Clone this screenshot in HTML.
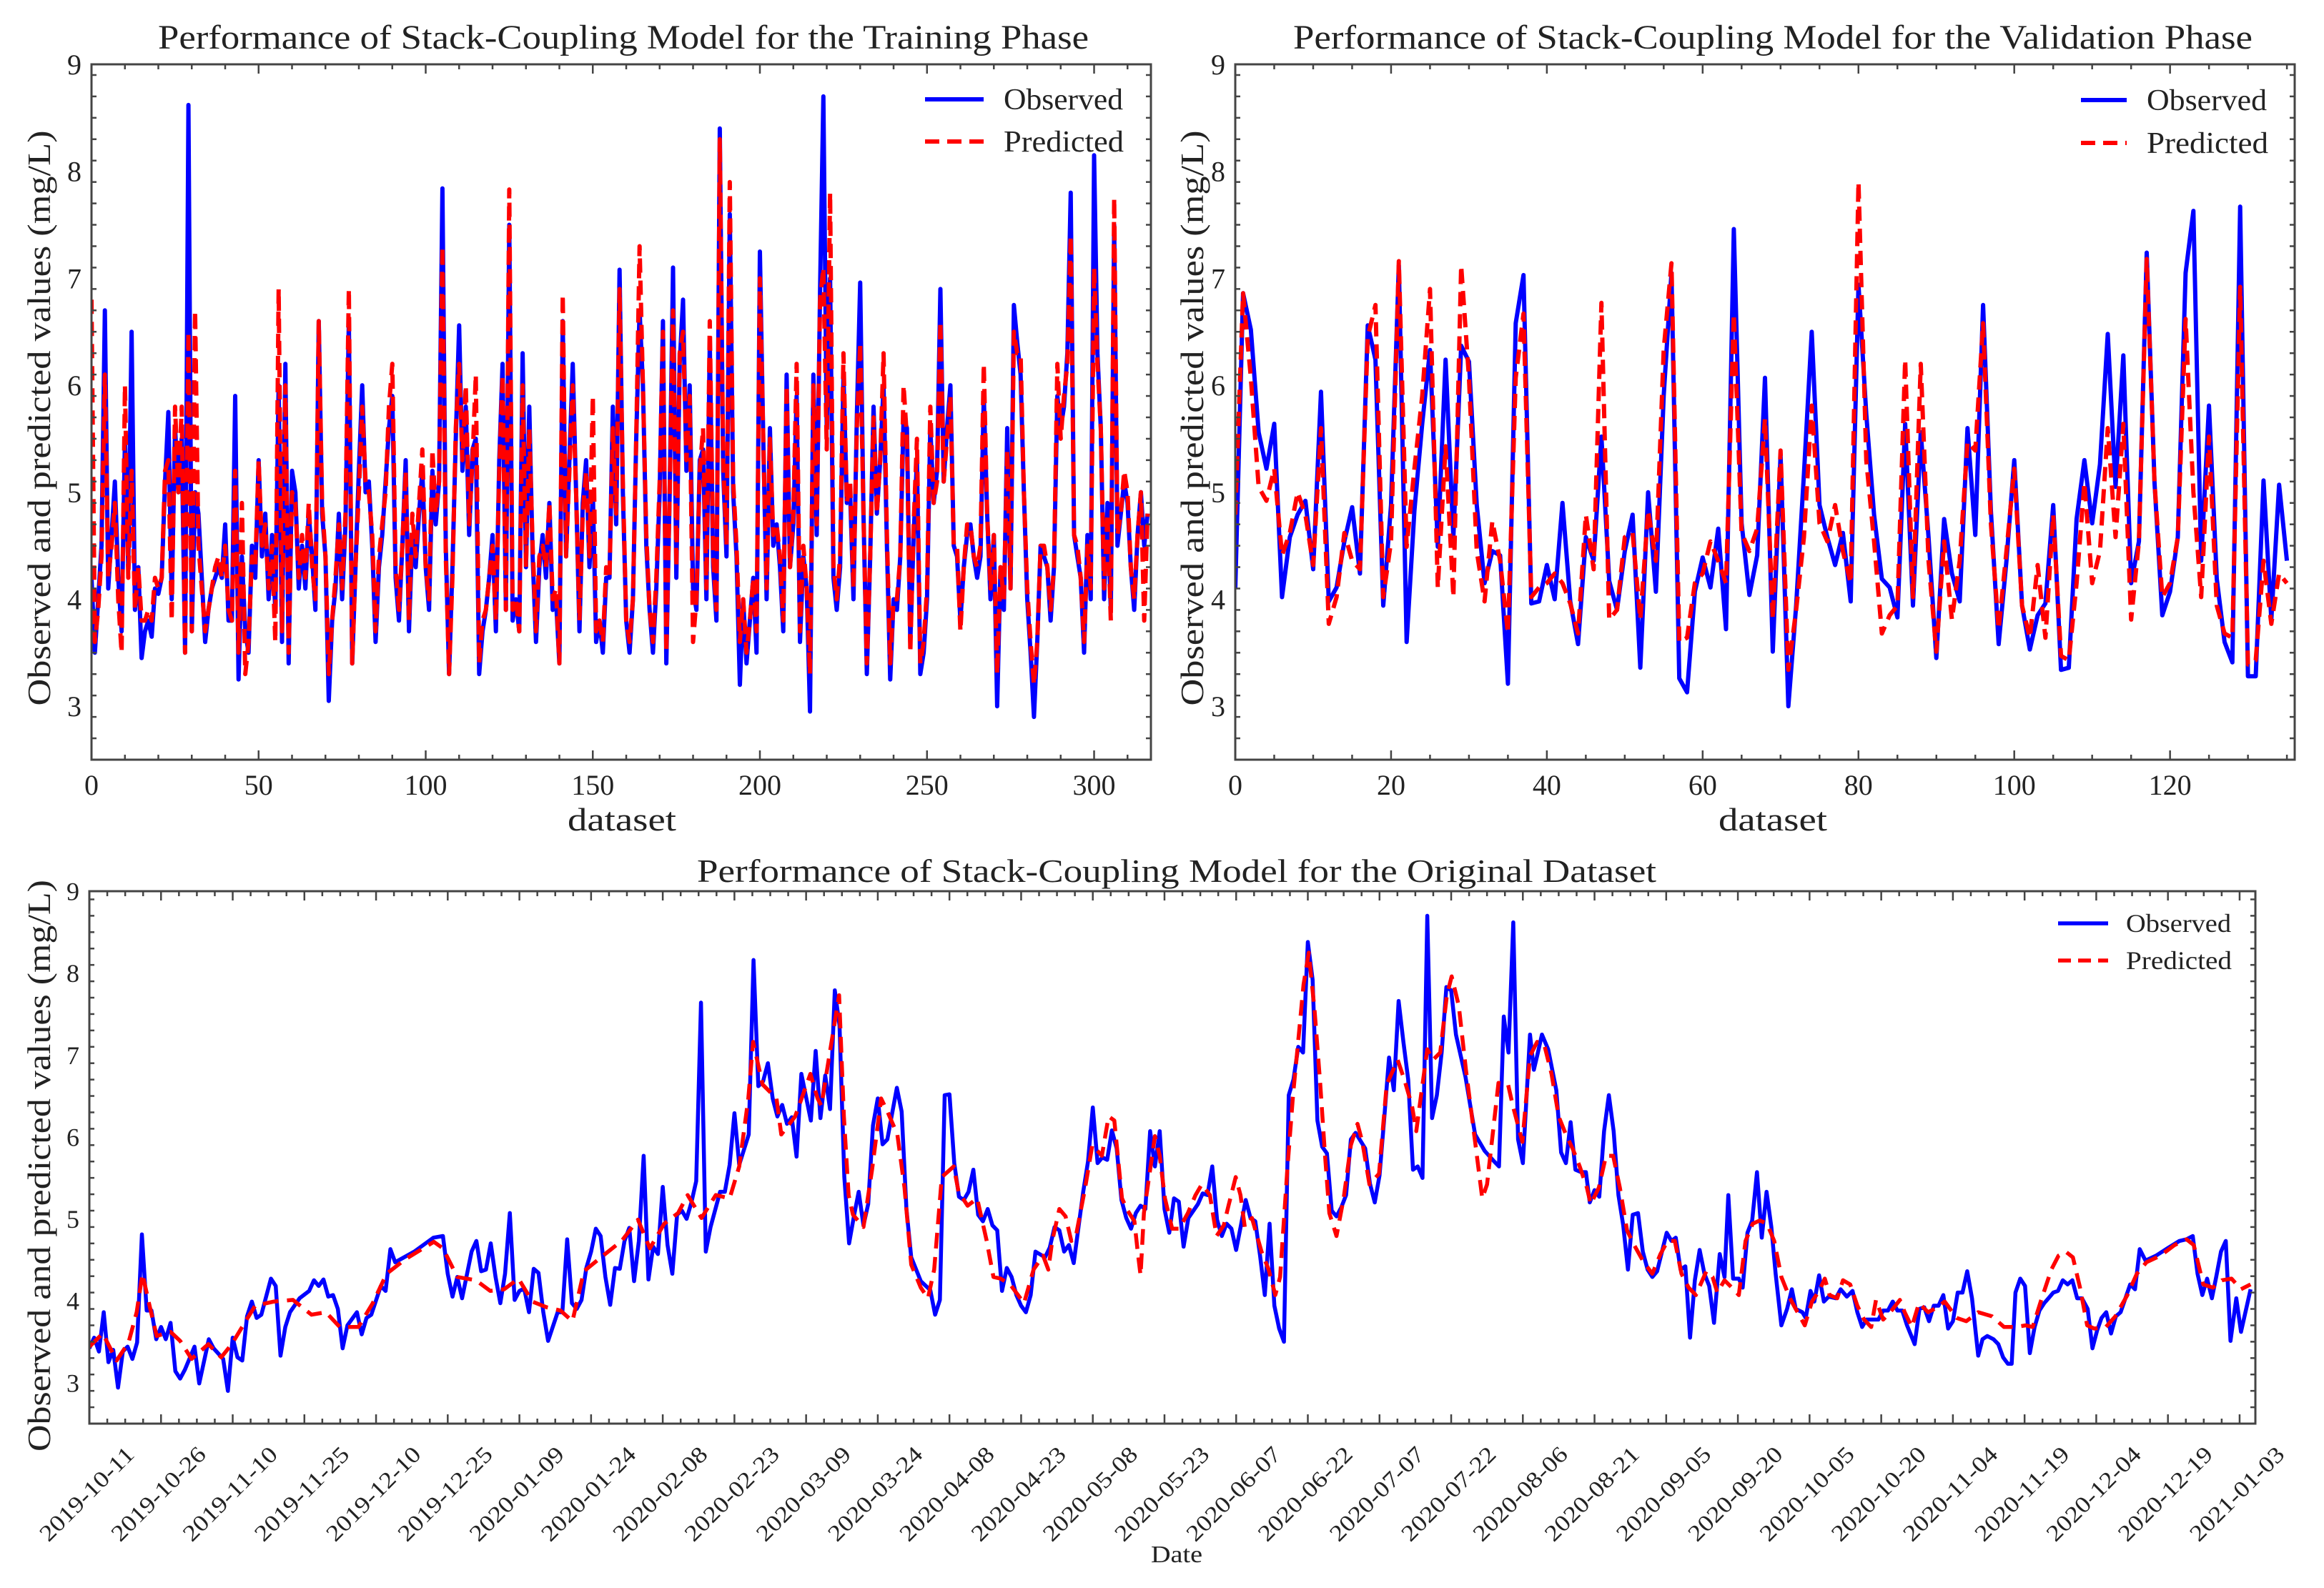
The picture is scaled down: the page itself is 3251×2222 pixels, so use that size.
<!DOCTYPE html>
<html><head><meta charset="utf-8">
<style>
html,body{margin:0;padding:0;background:#fff;}
svg{display:block;}
text{font-family:"Liberation Serif","DejaVu Serif",serif;fill:#222;}
</style></head>
<body>
<svg id="fig" width="3251" height="2222" viewBox="0 0 3251 2222" xmlns="http://www.w3.org/2000/svg">
<rect width="3251" height="2222" fill="#fff"/>
<defs>
<clipPath id="clipTL"><rect x="128" y="90" width="1482" height="973"/></clipPath>
<clipPath id="clipTR"><rect x="1728" y="90" width="1482" height="973"/></clipPath>
<clipPath id="clipB"><rect x="125" y="1247" width="3030" height="745"/></clipPath>
</defs>
<g id="gTL"></g>
<g id="gTR"></g>
<g id="gB"></g>
</svg>
<script>
// ---------- Training phase data ----------
const trainObserved = [4.2,3.5,4.0,4.5,6.7,4.1,4.6,5.1,4.2,3.7,
5.5,4.3,6.5,3.9,4.3,3.45,3.7,3.8,3.65,4.1,
4.05,4.2,5.1,5.75,4.0,5.6,5.0,5.5,3.5,8.62,
3.7,5.0,4.8,4.2,3.6,3.9,4.1,4.2,4.3,4.2,
4.7,3.8,3.8,5.9,3.25,4.4,3.7,3.5,4.5,4.2,
5.3,4.4,4.8,4.0,4.6,3.9,6.0,3.6,6.2,3.4,
5.2,5.0,4.1,4.5,4.1,4.8,4.4,3.9,6.6,4.8,
4.4,3.05,3.8,4.1,4.8,4.0,4.7,6.6,3.4,4.3,
5.2,6.0,5.0,5.1,4.5,3.6,4.3,4.6,5.1,5.6,
5.9,4.2,3.8,4.5,5.3,3.7,4.6,4.3,4.8,5.2,
4.3,3.9,5.2,4.7,5.1,7.84,4.5,3.3,4.3,5.5,
6.56,5.2,5.8,4.6,5.4,5.5,3.3,3.7,3.9,4.2,
4.6,3.7,5.3,6.2,3.9,7.5,3.8,4.0,3.7,6.3,
4.3,5.8,4.4,3.6,4.3,4.6,4.2,4.9,3.9,4.0,
3.4,6.6,4.4,5.3,6.2,5.0,3.7,4.9,5.3,4.3,
5.0,3.6,3.8,3.5,4.2,4.2,5.8,4.7,7.08,5.0,
3.8,3.5,4.0,5.5,6.7,6.0,4.5,3.9,3.5,4.1,
5.0,6.6,3.4,5.0,7.1,4.2,6.2,6.8,5.2,6.0,
4.1,3.9,5.3,5.4,4.0,6.4,4.3,3.8,8.4,5.2,
4.4,7.6,5.0,4.4,3.2,4.0,3.4,3.8,4.2,3.5,
7.25,5.5,4.0,5.6,4.5,4.7,4.3,3.7,6.1,4.3,
4.7,5.9,3.6,4.4,4.1,2.95,6.1,4.6,6.9,8.7,
5.6,7.0,4.2,3.9,4.3,6.1,4.9,5.0,4.0,5.7,
6.96,4.8,3.3,4.4,5.8,4.8,5.3,6.0,4.5,3.25,
4.0,3.9,4.4,5.7,5.6,3.6,4.6,5.3,3.3,3.5,
4.0,5.6,4.9,5.2,6.9,5.1,5.6,6.0,4.5,4.4,
3.8,4.3,4.6,4.7,4.4,4.2,4.4,5.9,4.8,4.0,
4.6,3.0,4.3,3.9,5.6,4.1,6.75,6.4,6.1,5.0,
4.0,3.5,2.9,3.6,4.5,4.4,4.3,3.8,4.3,5.9,
5.6,5.8,6.3,7.8,4.6,4.4,4.2,3.5,4.6,4.0,
8.15,6.3,5.6,4.0,4.9,3.9,7.5,4.5,4.8,5.1,
4.9,4.3,3.9,4.6,5.0,4.5,4.8];
const trainPredicted = [6.8,3.6,3.9,4.4,6.1,4.2,4.5,4.9,4.0,3.5,
6.0,4.2,5.2,3.9,4.3,3.8,3.8,3.9,3.8,4.2,
4.1,4.2,5.2,5.3,3.8,5.8,5.0,5.8,3.5,6.5,
3.7,6.7,4.5,4.1,3.7,3.9,4.1,4.3,4.4,4.2,
4.5,3.9,3.8,5.2,3.5,4.9,3.3,3.6,4.4,4.3,
5.3,4.5,4.7,4.1,4.5,3.6,6.9,3.7,6.0,3.5,
5.0,4.9,4.2,4.6,4.2,4.9,4.3,4.0,6.6,4.9,
4.4,3.3,3.8,4.2,4.7,4.1,4.8,6.9,3.4,4.3,
5.0,5.8,5.1,5.0,4.6,3.7,4.4,4.7,5.0,5.8,
6.2,4.3,3.9,4.5,5.2,3.8,4.8,4.4,4.9,5.4,
4.3,4.0,5.4,4.8,5.1,7.3,4.4,3.3,4.2,5.6,
6.2,5.3,6.0,4.7,5.3,6.1,3.4,3.8,3.9,4.2,
4.5,3.8,5.2,6.1,3.9,7.83,3.9,4.0,3.7,6.0,
4.3,5.6,4.5,3.7,4.4,4.5,4.3,4.9,4.0,4.1,
3.4,6.85,4.4,5.2,6.0,5.0,3.8,4.8,5.2,4.4,
5.9,3.7,3.8,3.6,4.3,4.2,5.6,4.8,6.9,5.1,
3.8,3.6,4.0,5.5,7.3,6.0,4.6,3.9,3.6,4.2,
5.1,6.5,3.5,5.0,6.7,4.3,6.3,6.5,5.3,5.9,
3.6,4.0,5.2,5.6,4.1,6.6,4.4,3.9,8.3,5.3,
4.5,7.9,5.1,4.5,3.6,4.0,3.5,3.8,4.2,3.7,
7.0,5.5,4.1,5.5,4.6,4.7,4.4,3.8,6.0,4.3,
4.8,6.2,3.7,4.5,4.1,3.3,6.0,4.7,6.8,7.1,
5.4,7.8,4.3,4.0,4.4,6.3,4.9,5.1,4.1,5.6,
6.4,4.8,3.4,4.4,5.7,4.8,5.3,6.3,4.6,3.4,
4.0,4.0,4.4,6.0,5.5,3.5,4.7,5.5,3.4,3.6,
4.1,5.8,4.9,5.1,6.6,5.1,5.5,5.9,4.5,4.5,
3.7,4.3,4.7,4.7,4.4,4.3,4.5,6.2,4.8,4.1,
4.6,3.3,4.3,4.0,5.4,4.1,6.5,6.3,6.3,5.0,
4.1,3.6,3.2,3.6,4.5,4.5,4.3,3.9,4.3,6.2,
5.5,5.9,6.2,7.4,4.6,4.5,4.2,3.6,4.5,4.1,
7.1,6.2,5.6,4.1,4.8,3.8,7.75,4.6,4.8,5.2,
5.0,4.3,4.0,4.6,5.0,3.8,4.8];
const trainXTicks = [0,50,100,150,200,250,300];
const trainYTicks = [3,4,5,6,7,8,9];

// ---------- Validation phase data ----------
const valObserved = [4.1,6.86,6.52,5.56,5.22,5.64,4.02,4.58,4.79,4.92,
4.28,5.94,3.98,4.11,4.54,4.86,4.24,6.56,6.24,3.94,
4.88,7.12,3.6,4.83,5.64,6.33,4.49,6.24,4.58,6.37,
6.22,4.88,4.15,4.45,4.41,3.21,6.58,7.03,3.96,3.98,
4.32,4.0,4.9,3.98,3.58,4.58,4.36,5.52,4.17,3.9,
4.45,4.79,3.36,5.0,4.07,5.9,7.05,3.26,3.13,4.07,
4.39,4.11,4.66,3.72,7.46,4.71,4.04,4.41,6.07,3.51,
5.35,3.0,3.94,5.17,6.5,4.88,4.58,4.32,4.62,3.98,
6.94,5.73,4.79,4.19,4.11,3.83,5.64,3.94,5.56,4.58,
3.45,4.75,4.24,3.98,5.6,4.6,6.75,4.83,3.58,4.36,
5.3,3.94,3.53,3.85,3.96,4.88,3.34,3.36,4.75,5.3,
4.71,5.26,6.48,5.05,6.28,4.15,4.54,7.24,5.09,3.85,
4.07,4.58,7.05,7.63,4.36,5.81,4.19,3.6,3.41,7.67,
3.28,3.28,5.11,3.81,5.07,4.36];
const valPredicted = [4.79,6.86,6.07,5.05,4.92,5.22,4.41,4.62,5.0,4.79,
4.32,5.6,3.77,4.02,4.62,4.36,4.28,6.45,6.75,4.02,
4.54,7.16,4.49,5.22,5.9,6.9,4.11,5.43,4.02,7.12,
6.07,4.45,3.98,4.73,4.36,3.68,6.07,6.67,4.02,4.11,
4.15,4.24,4.15,3.96,3.68,4.79,4.28,6.77,3.81,3.9,
4.58,4.62,3.81,4.83,4.36,6.33,7.14,3.6,3.64,4.15,
4.24,4.54,4.36,4.15,6.67,4.62,4.45,4.66,5.69,3.81,
5.39,3.34,3.9,4.58,5.81,4.71,4.54,4.88,4.45,4.15,
7.9,5.3,4.54,3.68,3.85,3.94,6.24,4.02,6.2,4.36,
3.51,4.54,3.81,4.36,5.47,5.39,6.58,4.71,3.72,4.45,
5.22,3.94,3.64,4.32,3.64,4.79,3.47,3.43,4.15,5.09,
4.15,4.45,5.6,4.58,5.64,3.81,4.54,7.18,5.09,4.02,
4.15,4.58,6.62,5.0,4.02,5.52,3.94,3.68,3.64,6.92,
3.39,3.43,4.36,3.77,4.24,4.15];
const valXTicks = [0,20,40,60,80,100,120];
const valYTicks = [3,4,5,6,7,8,9];

// ---------- Original dataset data (day offset from 2019-10-11) ----------
const origObsDays = [0,1,2,3,4,5,6,7,8,9,10,11,12,13,14,15,16,17,18,19,20,22,23,25,26,28,29,30,31,32,33,34,35,36,38,39,40,41,42,44,46,47,48,49,50,51,52,53,54,56,57,58,59,61,62,63,64,68,72,74,75,76,77,78,80,81,82,83,84,85,86,87,88,89,90,91,92,93,94,95,96,98,99,100,101,102,103,104,105,106,107,108,109,110,111,112,113,114,115,116,117,118,119,120,121,122,123,124,125,126,127,128,129,130,132,133,134,135,136,138,139,140,141,142,143,144,145,146,147,148,149,
151,152,153,154,155,156,157,158,159,160,161,162,163,164,165,166,167,169,170,171,172,174,176,177,178,179,180,181,182,183,184,185,186,187,188,189,190,191,192,193,194,195,196,197,198,200,201,202,203,204,205,206,207,208,209,210,211,212,213,214,215,216,217,218,219,220,221,222,223,224,225,226,227,228,229,230,232,233,234,235,236,237,238,239,240,241,242,243,244,245,246,247,248,249,250,251,252,253,254,255,256,257,258,259,260,261,262,263,264,265,267,268,269,270,271,272,273,274,275,276,277,278,279,280,281,282,283,284,285,286,288,290,292,294,295,296,297,298,299,300,
301.5,302.3,303,304,305.3,307,308,309,310,311,312.2,313.2,314,315,316,317,318,319,320,321,322,323,324.1,325.1,326.1,327.1,328.1,330.1,331.1,332,333,334,335,336,337,338,339,340,341.2,342.2,343,344,345.2,346,347,348,349,350,351,352,352.9,354.1,355.3,356.3,357.1,358.5,359.2,360.2,361,362,363,364,365.5,366.5,367.8,369,370,371,371.9,373.4,374.4,375.4,376.4,377.4,378.4,379.4,380.4,382,383,384,385,386,387,388,389,390,391,392,393,394,395.3,396.2,397.2,398.5,399.5,400.5,401.5,402.3,403.1,404.1,405.1,406.1,407.1,408.1,409.1,410,411,412,413,414,415,416,417,418.2,419.2,420.2,421.1,422.1,423.1,424.1,425.1,426.1,427.1,428.1,429.1,430.3,432.5,434.9,437.4,438.9,440.2,441.2,442.2,443.2,444.2,445.1,446.1,447.1,448.1,449.3,450.3,452.3];
const origObsValues = [3.42,3.55,3.38,3.86,3.25,3.4,2.94,3.38,3.44,3.29,3.49,4.81,3.88,3.88,3.53,3.68,3.53,3.73,3.14,3.05,3.16,3.44,2.99,3.53,3.42,3.29,2.9,3.55,3.31,3.27,3.81,3.99,3.79,3.83,4.27,4.18,3.33,3.68,3.86,4.03,4.12,4.25,4.18,4.26,4.05,4.07,3.9,3.42,3.7,3.86,3.59,3.79,3.83,4.18,4.12,4.63,4.47,4.6,4.77,4.79,4.33,4.05,4.29,4.03,4.6,4.73,4.36,4.38,4.7,4.29,3.97,4.33,5.07,4.01,4.12,4.15,3.86,4.39,4.34,3.86,3.51,3.86,3.86,4.75,3.97,3.9,4.01,4.4,4.6,4.88,4.79,4.29,3.95,4.4,4.39,4.73,4.89,4.24,4.73,5.77,4.26,4.66,4.57,5.39,4.68,4.33,5.05,5.1,5.0,5.2,5.46,7.64,4.6,4.9,5.33,5.33,5.66,6.29,5.66,6.03,8.16,6.62,6.68,6.9,6.47,6.25,6.39,6.16,6.24,5.76,6.77,
6.2,7.05,6.23,6.75,6.34,7.79,7.36,5.51,4.7,5.03,5.33,4.92,5.18,6.14,6.47,5.91,5.97,6.6,6.31,5.12,4.53,4.24,4.13,3.83,4.01,6.51,6.52,5.68,5.27,5.23,5.33,5.6,5.05,4.97,5.12,4.92,4.86,4.12,4.4,4.29,4.07,3.94,3.86,4.07,4.6,4.53,4.65,4.9,4.86,4.6,4.68,4.46,4.9,5.33,5.7,6.36,5.68,5.75,5.72,6.08,5.86,5.23,5.01,4.88,5.07,5.16,5.12,6.07,5.64,6.07,5.12,4.83,5.25,5.21,4.66,5.01,5.18,5.31,5.29,5.64,4.99,4.79,4.94,4.88,4.62,4.92,5.23,5.01,4.97,4.55,4.07,4.94,3.94,3.66,3.5,6.51,6.7,7.1,7.03,8.38,7.92,6.2,5.88,5.8,5.1,5.03,5.14,5.29,5.97,6.05,5.86,5.43,5.2,5.53,6.23,6.97,6.57,7.66,7.16,6.7,5.6,5.64,5.5,8.7,6.23,6.51,7.03,7.83,7.79,7.25,6.73,6.03,5.83,5.7,5.64,7.47,7.03,8.62,5.97,5.68,
7.25,6.82,6.99,7.25,7.07,6.57,5.81,5.68,6.18,5.6,5.57,5.57,5.2,5.35,5.27,6.07,6.51,6.07,5.29,4.92,4.38,5.05,5.07,4.6,4.38,4.29,4.36,4.83,4.73,4.77,4.38,4.42,3.55,4.25,4.62,4.33,4.18,3.73,4.57,4.29,5.29,4.27,4.27,4.16,4.83,4.98,5.57,4.77,5.33,4.9,4.33,3.7,3.9,4.14,3.9,3.86,3.79,4.12,3.99,4.31,3.99,4.05,4.03,4.14,4.05,4.12,3.86,3.68,3.77,3.77,3.77,3.88,3.88,3.99,3.88,3.88,3.7,3.47,3.9,3.92,3.75,3.94,3.94,4.07,3.66,3.75,4.1,4.1,4.36,4.03,3.33,3.53,3.57,3.53,3.47,3.31,3.23,3.23,4.1,4.27,4.18,3.36,3.68,3.88,3.97,4.03,4.1,4.12,4.25,4.2,4.25,4.03,4.03,3.9,3.42,3.64,3.79,3.86,3.6,3.81,3.86,4.03,4.2,4.14,4.63,4.49,4.55,4.64,4.73,4.75,4.79,4.33,4.07,4.27,4.03,4.29,4.6,4.73,3.51,4.03,3.62,4.14];
const origPredDays = [0,2.8,5.7,8.2,9.9,11.1,12.6,14.1,17,19,21.4,24.9,27.6,29.8,32.7,34.7,38.6,42.6,46.5,49.5,52.4,56.3,59.3,62.2,66.2,72.1,74,77,80.9,83.9,86.8,89.8,92.7,95.7,98.6,101.1,103.5,107.5,111.4,114.8,117.3,120.3,123.2,125.2,128.1,131.1,134,136,137.9,138.9,140.9,143.8,144.8,147.7,
150.9,152.4,153.2,154.3,155.8,156.9,157.9,158.9,159.8,162,163.8,165.7,167.1,169.1,170.6,172,174,175.5,176.8,178.4,180.9,181.9,183.8,185.8,187.8,189.2,190.7,192.7,195.6,197.6,199.6,200.7,201.5,203,204.3,205.5,206.4,208.4,209.9,211.9,213.3,214.5,216.1,217.3,218.7,219.4,220,220.7,223,224,225.1,226.6,228.1,229.9,231.5,232.8,234.5,235.9,237.4,238.4,239.9,240.9,241.8,243.3,245.3,246.8,248.2,249.2,250.7,251.9,252.9,254.1,255.2,256.4,257.6,258.6,259.5,261,262.5,264,265.4,266.4,267.9,269.9,271.5,273.8,275.3,276.8,277.7,278.7,280,281.2,282.7,284.1,285.1,286.6,288.1,290,291.5,292.5,294.9,296.9,297.9,299.9,
301.5,303,304.5,306,307.5,309,310.4,311.9,313.4,314.2,315.9,317.4,318.9,320.3,321.8,323.3,325.3,327.1,328.8,330.3,331.8,333.2,334.7,336.2,338.4,339.7,340.7,342.2,343.4,345.2,346.6,348.1,349.6,351.1,352.6,354.1,355.9,357.1,359,360.5,362,363.2,364.2,365.8,367,368.5,370,371.4,372.9,373.9,375.4,376.9,378.9,379.9,381.4,382.9,384.8,386.8,388.3,390.8,392.8,395.3,398.2,400.7,403.2,405.2,406.7,408.6,410.6,412.1,413.6,415.1,416.6,418.1,419.6,422,424,426.5,428.5,430.5,433.4,436.4,438.9,440.4,442.4,444.4,446.3,448.3,450.3,452.3];
const origPredValues = [3.44,3.6,3.27,3.49,3.86,4.33,3.94,3.57,3.62,3.51,3.29,3.47,3.31,3.47,3.75,3.94,3.99,4.01,3.83,3.86,3.68,3.68,3.97,4.33,4.51,4.72,4.64,4.29,4.25,4.12,4.14,4.27,3.99,3.92,3.88,3.75,4.36,4.55,4.73,4.99,4.64,4.94,5.07,5.29,5.01,5.29,5.25,5.64,6.47,7.16,6.64,6.47,6.03,6.25,
6.77,6.47,6.38,6.79,7.33,7.73,6.25,5.29,5.05,4.9,5.6,6.47,6.3,6.03,5.38,4.44,4.16,4.03,4.38,5.51,5.64,5.33,5.16,5.25,4.73,4.29,4.27,4.2,3.97,4.38,4.55,4.38,4.73,5.12,5.03,4.73,4.77,5.38,5.9,5.77,6.25,6.2,5.25,5.1,4.97,4.6,4.31,5.07,6.01,5.77,5.25,4.88,4.88,5.07,5.29,5.42,5.29,4.79,4.92,5.16,5.51,5.29,4.9,5.01,4.6,4.38,4.07,4.29,5.6,6.51,7.12,7.86,8.25,7.55,6.64,5.77,5.07,4.79,5.25,5.9,6.16,5.94,5.42,5.55,6.64,6.94,6.68,6.38,6.07,6.51,7.07,6.94,7.03,7.73,7.96,7.6,6.81,5.94,5.25,5.42,6.66,6.64,6.38,5.94,
6.99,7.16,7.12,6.77,6.25,6.03,5.86,5.64,5.38,5.18,5.38,5.77,5.77,5.38,4.86,4.68,4.47,4.33,4.57,4.73,4.73,4.33,4.16,4.07,4.36,4.29,4.1,4.25,4.18,4.07,4.73,4.94,4.98,4.94,4.73,4.29,4.03,3.9,3.7,3.99,4.12,4.27,4.07,4.03,4.25,4.2,3.94,3.77,3.68,4.01,3.77,3.86,4.01,3.86,3.68,3.97,3.86,3.92,3.99,3.79,3.75,3.86,3.81,3.68,3.68,3.7,3.68,4.03,4.38,4.55,4.6,4.53,4.16,3.7,3.66,3.68,3.81,4.07,4.33,4.47,4.55,4.68,4.75,4.68,4.2,4.16,4.25,4.27,4.14,4.2];
const origDateLabels = ["2019-10-11","2019-10-26","2019-11-10","2019-11-25","2019-12-10","2019-12-25","2020-01-09","2020-01-24","2020-02-08","2020-02-23","2020-03-09","2020-03-24","2020-04-08","2020-04-23","2020-05-08","2020-05-23","2020-06-07","2020-06-22","2020-07-07","2020-07-22","2020-08-06","2020-08-21","2020-09-05","2020-09-20","2020-10-05","2020-10-20","2020-11-04","2020-11-19","2020-12-04","2020-12-19","2021-01-03"];
const origYTicks = [3,4,5,6,7,8,9];

const NS = "http://www.w3.org/2000/svg";
function mk(parent, tag, attrs, txt){
  const e = document.createElementNS(NS, tag);
  for (const k in attrs) e.setAttribute(k, attrs[k]);
  if (txt !== undefined) e.textContent = txt;
  parent.appendChild(e);
  return e;
}

function drawPanel(g, c){
  const sx = v => c.x0 + (v - c.xmin) / (c.xmax - c.xmin) * (c.x1 - c.x0);
  const sy = v => c.y1 - (v - c.ymin) / (c.ymax - c.ymin) * (c.y1 - c.y0);
  const lines = mk(g, "g", {"clip-path": "url(#" + c.clip + ")"});
  
  
  let d = "";
  c.obsX.forEach((x, i) => { d += (i ? "L" : "M") + sx(x).toFixed(1) + "," + sy(c.obsY[i]).toFixed(1); });
  const po = mk(lines, "path", {d: d, fill: "none", stroke: "#0000ff", "stroke-width": c.lw, "stroke-linejoin": "round"});
  
  
  d = "";
  c.predX.forEach((x, i) => { d += (i ? "L" : "M") + sx(x).toFixed(1) + "," + sy(c.predY[i]).toFixed(1); });
  const pp = mk(lines, "path", {d: d, fill: "none", stroke: "#ff0000", "stroke-width": c.lw, "stroke-dasharray": c.dash, "stroke-linejoin": "round"});
  
  
  const fr = mk(g, "rect", {x: c.x0, y: c.y0, width: c.x1 - c.x0, height: c.y1 - c.y0, fill: "none", stroke: "#444", "stroke-width": 3});
  
  
  const tk = mk(g, "g", {stroke: "#444", "stroke-width": 2.5});
  
  
  for (let v = c.xmin; v <= c.xmax + 1e-6; v += c.xminor) {
    const isMaj = Math.abs((v / c.xmajor) - Math.round(v / c.xmajor)) < 1e-6;
    const L = isMaj ? 13 : 7, X = sx(v);
    mk(tk, "line", {x1: X, x2: X, y1: c.y1, y2: c.y1 - L});
    mk(tk, "line", {x1: X, x2: X, y1: c.y0, y2: c.y0 + L});
  }
  for (let v = c.ymin; v <= c.ymax + 1e-6; v += 0.2) {
    const isMaj = Math.abs(v - Math.round(v)) < 1e-6;
    const L = isMaj ? 13 : 7, Y = sy(v);
    mk(tk, "line", {x1: c.x0, x2: c.x0 + L, y1: Y, y2: Y});
    mk(tk, "line", {x1: c.x1, x2: c.x1 - L, y1: Y, y2: Y});
  }
  c.yTicks.forEach(v => {
    const t = mk(g, "text", {x: c.x0 - 14, y: sy(v) + c.fs * 0.35, "font-size": c.fs, "text-anchor": "end"}, String(v));
    
    
  });
  return {sx, sy};
}

function legend(g, lx0, lx1, tx, yObs, yPred, fs, lw, dash, tw){
  const lg = mk(g, "g", {});
  
  
  const l1 = mk(lg, "line", {x1: lx0, x2: lx1, y1: yObs, y2: yObs, stroke: "#0000ff", "stroke-width": lw});
  
  
  const t1 = mk(lg, "text", {x: tx, y: yObs + fs * 0.33, "font-size": fs, textLength: tw[0], lengthAdjust: "spacingAndGlyphs"}, "Observed");
  
  
  const l2 = mk(lg, "line", {x1: lx0, x2: lx1, y1: yPred, y2: yPred, stroke: "#ff0000", "stroke-width": lw, "stroke-dasharray": dash});
  
  
  const t2 = mk(lg, "text", {x: tx, y: yPred + fs * 0.33, "font-size": fs, textLength: tw[1], lengthAdjust: "spacingAndGlyphs"}, "Predicted");
  
  
}

function label(g, name, attrs, txt){
  const t = mk(g, "text", attrs, txt);
  
  
  return t;
}

(function(){
  const g = document.getElementById("gTL");
  const s = drawPanel(g, {x0: 128, x1: 1610, y0: 90, y1: 1063, xmin: 0, xmax: 317, ymin: 2.5, ymax: 9,
    xmajor: 50, xminor: 10, obsX: trainObserved.map((_, i) => i), obsY: trainObserved, predX: trainPredicted.map((_, i) => i), predY: trainPredicted,
    lw: 6, dash: "20 11", clip: "clipTL", yTicks: trainYTicks, fs: 40});
  trainXTicks.forEach(v => label(g, "x-tick-label", {x: s.sx(v), y: 1112, "font-size": 40, "text-anchor": "middle"}, String(v)));
  label(g, "chart-title", {x: 872, y: 68, "font-size": 48, "text-anchor": "middle", textLength: 1302, lengthAdjust: "spacingAndGlyphs"}, "Performance of Stack-Coupling Model for the Training Phase");
  label(g, "x-axis-title", {x: 870, y: 1162, "font-size": 46, "text-anchor": "middle", textLength: 152, lengthAdjust: "spacingAndGlyphs"}, "dataset");
  label(g, "y-axis-title", {x: 0, y: 0, "font-size": 46, "text-anchor": "middle", textLength: 805, lengthAdjust: "spacingAndGlyphs", transform: "translate(70,585) rotate(-90)"}, "Observed and predicted values (mg/L)");
  legend(g, 1294, 1376, 1404, 139, 198, 42, 6, "20 11", [167, 168]);
})();

(function(){
  const g = document.getElementById("gTR");
  const s = drawPanel(g, {x0: 1728, x1: 3210, y0: 90, y1: 1063, xmin: 0, xmax: 136, ymin: 2.5, ymax: 9,
    xmajor: 20, xminor: 5, obsX: valObserved.map((_, i) => i), obsY: valObserved, predX: valPredicted.map((_, i) => i), predY: valPredicted,
    lw: 6, dash: "20 11", clip: "clipTR", yTicks: valYTicks, fs: 40});
  valXTicks.forEach(v => label(g, "x-tick-label", {x: s.sx(v), y: 1112, "font-size": 40, "text-anchor": "middle"}, String(v)));
  label(g, "chart-title", {x: 2480, y: 68, "font-size": 48, "text-anchor": "middle", textLength: 1342, lengthAdjust: "spacingAndGlyphs"}, "Performance of Stack-Coupling Model for the Validation Phase");
  label(g, "x-axis-title", {x: 2480, y: 1162, "font-size": 46, "text-anchor": "middle", textLength: 152, lengthAdjust: "spacingAndGlyphs"}, "dataset");
  label(g, "y-axis-title", {x: 0, y: 0, "font-size": 46, "text-anchor": "middle", textLength: 805, lengthAdjust: "spacingAndGlyphs", transform: "translate(1683,585) rotate(-90)"}, "Observed and predicted values (mg/L)");
  legend(g, 2911, 2975, 3003, 140, 200, 42, 6, "20 11", [168, 170]);
})();

(function(){
  const g = document.getElementById("gB");
  const s = drawPanel(g, {x0: 125, x1: 3155, y0: 1247, y1: 1992, xmin: 0, xmax: 453.3, ymin: 2.5, ymax: 9,
    xmajor: 15, xminor: 3.75, obsX: origObsDays, obsY: origObsValues, predX: origPredDays, predY: origPredValues,
    lw: 5.5, dash: "22 12", clip: "clipB", yTicks: origYTicks, fs: 36});
  origDateLabels.forEach((lab, i) => {
    const cx = s.sx(i * 15) - 4, cy = 2090;
    label(g, "x-tick-label", {x: 0, y: 0, "font-size": 32, "text-anchor": "middle", "dominant-baseline": "central",
      textLength: 172, lengthAdjust: "spacingAndGlyphs", transform: "translate(" + cx + "," + cy + ") rotate(-45)"}, lab);
  });
  label(g, "chart-title", {x: 1646, y: 1234, "font-size": 46, "text-anchor": "middle", textLength: 1342, lengthAdjust: "spacingAndGlyphs"}, "Performance of  Stack-Coupling Model for the Original Dataset");
  label(g, "x-axis-title", {x: 1646, y: 2186, "font-size": 34, "text-anchor": "middle", textLength: 72, lengthAdjust: "spacingAndGlyphs"}, "Date");
  label(g, "y-axis-title", {x: 0, y: 0, "font-size": 46, "text-anchor": "middle", textLength: 800, lengthAdjust: "spacingAndGlyphs", transform: "translate(70,1631) rotate(-90)"}, "Observed and predicted values (mg/L)");
  legend(g, 2879, 2949, 2974, 1292, 1344, 36, 5.5, "18 10", [147, 148]);
})();
</script>
</body></html>
